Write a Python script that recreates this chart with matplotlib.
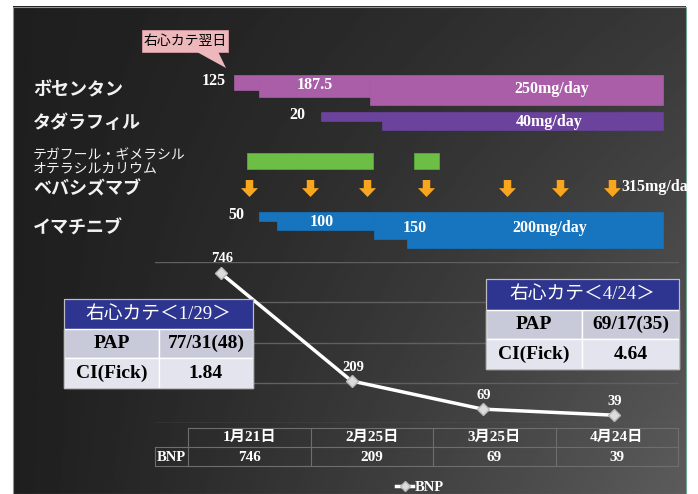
import numpy as np
import matplotlib.pyplot as plt
from matplotlib.patches import Rectangle, Polygon
from matplotlib.path import Path

plt.rcParams['font.family'] = ['Noto Sans CJK JP', 'DejaVu Sans']
JP = ['Noto Sans CJK JP', 'DejaVu Sans']
SERIF = ['Liberation Serif', 'Noto Sans CJK JP']

# BNP course
dates = ['1月21日', '2月25日', '3月25日', '4月24日']
bnp = [746, 209, 69, 39]

# treatment timeline (x = days from first bosentan dose)
drugs = ['ボセンタン', 'タダラフィル', 'テガフール・ギメラシル\nオテラシルカリウム',
         'ベバシズマブ', 'イマチニブ']
bosentan_start = [0, 12.5, 68]
bosentan_dose = [125, 187.5, 250]
tadalafil_start = [43.5, 74]
tadalafil_dose = [20, 40]
imatinib_start = [12.5, 21.5, 70, 86.5]
imatinib_dose = [50, 100, 150, 200]
s1_start = [6.5, 90]
s1_end = [69.5, 102.5]
bev_days = [7.5, 38, 66.5, 96, 136.5, 163, 189]
bev_label = '315mg/day'
last_day = 214.5

cath1_title = '右心カテ＜1/29＞'
cath1_rows = [['PAP', '77/31(48)'], ['CI(Fick)', '1.84']]
cath2_title = '右心カテ＜4/24＞'
cath2_rows = [['PAP', '69/17(35)'], ['CI(Fick)', '4.64']]

W, H = 698, 494
fig = plt.figure(figsize=(W / 100, H / 100), dpi=100)

# base axes in pixel units
ax = fig.add_axes([0, 0, 1, 1])
ax.set_xlim(0, W)
ax.set_ylim(H, 0)
ax.axis('off')

u, v = np.meshgrid(np.linspace(0, 1, 300), np.linspace(0, 1, 220))
grad = 0.12 + 0.10 * u ** 1.3 + 0.14 * u * v
ax.imshow(grad, extent=(13, 686, 494, 7), cmap='gray', vmin=0, vmax=1,
          aspect='auto', zorder=0)
panel = Rectangle((13, 7), 673, 487, fc='none', ec='#6fa58f', lw=0.8, zorder=1)
ax.add_patch(panel)

name_y = [90, 122, 162, 189, 228]
for name, y in zip(drugs, name_y):
    multi = '\n' in name
    ax.text(33, y, name, color='#f2f2f2', family=JP, va='center', ha='left',
            fontsize=10 if multi else 13, weight='normal' if multi else 'bold',
            linespacing=0.95, zorder=3)

# callout
ax.add_patch(Rectangle((142, 30), 86, 22, fc='#EDB8BC', ec='#d49ca0', lw=0.6, zorder=3))
ax.add_patch(Polygon([(196, 51.5), (218, 51.5), (226, 68)], fc='#EDB8BC', ec='none', zorder=3))
ax.text(185, 41.5, '右心カテ翌日', fontsize=10, color='black', ha='center', va='center',
        family=JP, zorder=4)

# gantt axes: x in days, y in pixels
gx = fig.add_axes([0, 0, 1, 1])
gx.set_xlim(-117, 232)
gx.set_ylim(H, 0)
gx.axis('off')


def dose_bars(start, dose, top, full, color, labels):
    ends = start[1:] + [last_day]
    hs = [d / max(dose) * full for d in dose]
    gx.bar(x=start, height=hs, width=np.subtract(ends, start), bottom=top,
           align='edge', color=color, edgecolor=color, lw=0.5)
    texts = [f'{d:g}' for d in dose]
    texts[-1] += 'mg/day'
    for i, (t, (lx, ly)) in enumerate(zip(texts, labels)):
        gx.text(lx, ly, t, color='white', family=SERIF, weight='bold',
                fontsize=11.5, ha='right' if i == 0 else 'center', va='center')


dose_bars(bosentan_start, bosentan_dose, 75, 30, '#A95EA7',
          [(-4, 81), (40.5, 85), (159, 89)])
dose_bars(tadalafil_start, tadalafil_dose, 112, 18, '#6B429C',
          [(35.5, 115), (157.5, 122)])
dose_bars(imatinib_start, imatinib_dose, 212, 36, '#1774BE',
          [(5, 215), (44, 222), (90.5, 228), (158, 228)])

gx.bar(x=s1_start, height=16, width=np.subtract(s1_end, s1_start), bottom=153,
       align='edge', color='#6CBE45', edgecolor='#5aa83a', lw=0.6)

arrow = Path([(-0.22, 0.5), (0.22, 0.5), (0.22, 0.02), (0.5, 0.02), (0, -0.5),
              (-0.5, 0.02), (-0.22, 0.02), (-0.22, 0.5)])
gx.scatter(bev_days, [188.5] * len(bev_days), marker=arrow, s=150,
           color='#F8A61E', lw=0)
t315 = gx.text(bev_days[-1] + 4.5, 187, bev_label, color='white', family=SERIF,
               weight='bold', fontsize=11.5, ha='left', va='center')
t315.set_clip_path(panel)

# BNP line
bx = fig.add_axes([155 / W, 1 - 423 / H, (679 - 155) / W, (423 - 262) / H])
bx.patch.set_alpha(0)
bx.set_xlim(-0.5, len(bnp) - 0.5)
bx.set_ylim(0, 800)
for s in bx.spines.values():
    s.set_visible(False)
bx.set_yticks(range(0, 801, 200))
bx.set_xticks([])
bx.tick_params(left=False, labelleft=False)
bx.grid(axis='y', color='#606060', lw=1)
bx.set_axisbelow(True)
bx.plot(range(len(bnp)), bnp, color='white', lw=2.5, marker='D', ms=6,
        mfc='#dcdcdc', mec='#b8b8b8', label='BNP', clip_on=False, zorder=3)
for i, val in enumerate(bnp):
    bx.annotate(str(val), (i, val), xytext=(1, 10), textcoords='offset points',
                ha='center', va='center', color='white', family=SERIF,
                weight='bold', fontsize=10.5, zorder=4)

fig.legend(loc='center', bbox_to_anchor=(420 / W, 1 - 487 / H), frameon=False,
           handlelength=1.2, handletextpad=0.1, markerscale=0.8, labelcolor='white',
           prop={'family': SERIF, 'weight': 'bold', 'size': 10.5})

# data table under the chart
edges = np.linspace(188, 678, len(dates) + 1)
lc = '#6e6e6e'
ax.plot([188, 678], [428, 428], color=lc, lw=0.8, zorder=2)
for y in (447, 466):
    ax.plot([155, 678], [y, y], color=lc, lw=0.8, zorder=2)
ax.plot([155, 155], [447, 466], color=lc, lw=0.8, zorder=2)
for x in edges:
    ax.plot([x, x], [428, 466], color=lc, lw=0.8, zorder=2)
ax.text(171.5, 457, 'BNP', color='white', family=SERIF, weight='bold', fontsize=10.5,
        ha='center', va='center', zorder=3)
for i, (d, val) in enumerate(zip(dates, bnp)):
    cx = (edges[i] + edges[i + 1]) / 2
    ax.text(cx, 437.5, d, color='white', family=SERIF, weight='bold', fontsize=11,
            ha='center', va='center', zorder=3)
    ax.text(cx, 457, str(val), color='white', family=SERIF, weight='bold', fontsize=11,
            ha='center', va='center', zorder=3)


# right heart catheter tables
def cath_table(x0, xm, x1, ys, title, rows):
    tax = fig.add_axes([0, 0, 1, 1])
    tax.set_xlim(0, W)
    tax.set_ylim(H, 0)
    tax.axis('off')
    tax.add_patch(Rectangle((x0, ys[0]), x1 - x0, ys[1] - ys[0], fc='#2E3591',
                            ec='#cfcfcf', lw=0.8))
    tax.text((x0 + x1) / 2, (ys[0] + ys[1]) / 2, title, color='white', family=SERIF,
             fontsize=13.5, ha='center', va='center')
    fills = ['#C9CAD9', '#E3E4ED']
    for i, row in enumerate(rows):
        y0, y1 = ys[i + 1], ys[i + 2]
        for (a, b), txt in zip([(x0, xm), (xm, x1)], row):
            tax.add_patch(Rectangle((a, y0), b - a, y1 - y0, fc=fills[i], ec='white', lw=1))
            tax.text((a + b) / 2, (y0 + y1) / 2, txt, color='black', family=SERIF,
                     weight='bold', fontsize=14, ha='center', va='center')
    tax.add_patch(Rectangle((x0, ys[0]), x1 - x0, ys[-1] - ys[0], fc='none',
                            ec='#bdbdbd', lw=0.8))


cath_table(64, 159, 253, [299, 329, 358, 388], cath1_title, cath1_rows)
cath_table(486, 582, 679, [279, 310, 339, 369], cath2_title, cath2_rows)

fig.savefig('out.png', dpi=100)
